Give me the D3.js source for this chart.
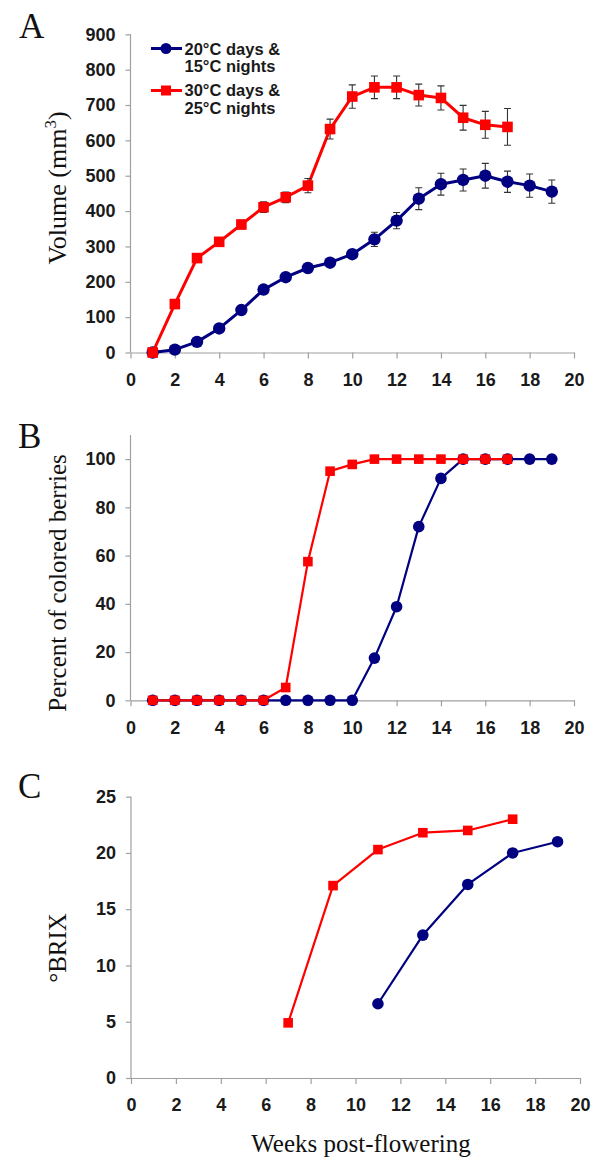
<!DOCTYPE html>
<html>
<head>
<meta charset="utf-8">
<script src="https://cdn.jsdelivr.net/npm/d3@7"></script>
<style>
  html, body { margin: 0; padding: 0; background: #fff; }
  svg { display: block; }
</style>
</head>
<body>
<script>
// ---------- data ----------
const weeksCoolA = [1,2,3,4,5,6,7,8,9,10,11,12,13,14,15,16,17,18,19];
const volumeCool = [0,8,30,68,120,178,213,239,254,278,320,373,435,476,488,500,483,472,455];
const volumeCoolErr = [4,5,6,8,8,9,9,9,10,12,20,23,31,31,31,35,30,33,33];
const weeksWarmA = [1,2,3,4,5,6,7,8,9,10,11,12,13,14,15,16,17];
const volumeWarm = [0,137,267,313,362,411,439,472,632,724,750,750,728,720,664,644,638];
const volumeWarmErr = [4,6,8,8,12,15,15,20,28,33,32,32,31,34,35,38,52];

const weeksB = [1,2,3,4,5,6,7,8,9,10,11,12,13,14,15,16,17,18,19];
const coloredCool = [0,0,0,0,0,0,0,0,0,0,17.5,38.8,72,92,100,100,100,100,100];
const weeksWarmB = [1,2,3,4,5,6,7,8,9,10,11,12,13,14,15,16,17];
const coloredWarm = [0,0,0,0,0,0,5.3,57.5,95,97.8,100,100,100,100,100,100,100];

const weeksCoolC = [11,13,15,17,19];
const brixCool = [6.6,12.7,17.2,20.0,21.0];
const weeksWarmC = [7,9,11,13,15,17];
const brixWarm = [4.9,17.1,20.3,21.8,22.0,23.0];

const xTicks = [0,2,4,6,8,10,12,14,16,18,20];
const yTicksA = [0,100,200,300,400,500,600,700,800,900];
const yTicksB = [0,20,40,60,80,100];
const yTicksC = [0,5,10,15,20,25];

const legendLabels = [["20\u00B0C days &","15\u00B0C nights"],["30\u00B0C days &","25\u00B0C nights"]];

// ---------- styles ----------
const BLUE = "#000080";
const RED = "#ff0000";
const AXIS = "#a0a0a0";
const TICKFONT = "'Liberation Sans', Arial, sans-serif";
const SERIF = "'Liberation Serif', 'Times New Roman', serif";

const svg = d3.select("body").append("svg")
  .attr("width", 600).attr("height", 1165);

function drawAxes(x, y, yTicks) {
  const gx = svg.append("g").attr("transform", `translate(0,${y(0)})`)
    .call(d3.axisBottom(x).tickValues(xTicks).tickSize(6).tickSizeOuter(0).tickPadding(14.5).tickFormat(d3.format("d")));
  const gy = svg.append("g").attr("transform", `translate(${x(0)},0)`)
    .call(d3.axisLeft(y).tickValues(yTicks).tickSize(5).tickSizeOuter(0).tickPadding(10).tickFormat(d3.format("d")));
  [gx, gy].forEach(g => {
    g.select(".domain").attr("stroke", AXIS).attr("stroke-width", 1.2);
    g.selectAll(".tick line").attr("stroke", AXIS).attr("stroke-width", 1.2);
    g.selectAll(".tick text").attr("fill", "#1a1a1a")
      .style("font-family", TICKFONT).style("font-weight", "bold").style("font-size", "18px");
  });
  gy.select(".domain").attr("d", `M0,${y.range()[0]}V${y.range()[1]}`);
}

function drawSeries(x, y, xs, ys, color, shape, opts) {
  const pts = xs.map((d, i) => [d, ys[i]]);
  const line = d3.line().x(d => x(d[0])).y(d => y(d[1]));
  svg.append("path").datum(pts).attr("d", line)
    .attr("fill", "none").attr("stroke", color).attr("stroke-width", opts.lw)
    .attr("stroke-linejoin", "round");
  if (opts.err) {
    const g = svg.append("g").attr("stroke", "#333").attr("stroke-width", 1.1).attr("fill", "none");
    pts.forEach((d, i) => {
      const e = opts.err[i];
      const cx = x(d[0]), y1 = y(d[1] - e), y2 = y(d[1] + e);
      g.append("path").attr("d", `M${cx},${y1}V${y2}M${cx-3.5},${y1}H${cx+3.5}M${cx-3.5},${y2}H${cx+3.5}`);
    });
  }
  const m = svg.append("g").attr("fill", color);
  if (shape === "circle") {
    m.selectAll("circle").data(pts).join("circle")
      .attr("cx", d => x(d[0])).attr("cy", d => y(d[1])).attr("r", opts.size);
  } else {
    m.selectAll("rect").data(pts).join("rect")
      .attr("x", d => x(d[0]) - opts.size).attr("y", d => y(d[1]) - opts.size)
      .attr("width", opts.size * 2).attr("height", opts.size * 2);
  }
}

function panelLetter(txt, px, py) {
  svg.append("text").attr("x", px).attr("y", py).text(txt)
    .style("font-family", SERIF).style("font-size", "35px").attr("fill", "#111");
}

function yTitle(cy) {
  return svg.append("text").attr("transform", `translate(66,${cy}) rotate(-90)`)
    .attr("text-anchor", "middle")
    .style("font-family", SERIF).style("font-size", "25px").attr("fill", "#111");
}

// ---------- Panel A ----------
const xA = d3.scaleLinear([0, 20], [130.5, 574]);
const yA = d3.scaleLinear([0, 900], [352.5, 34.3]);
drawAxes(xA, yA, yTicksA);
drawSeries(xA, yA, weeksCoolA, volumeCool, BLUE, "circle", {lw: 3, size: 6.2, err: volumeCoolErr});
drawSeries(xA, yA, weeksWarmA, volumeWarm, RED, "square", {lw: 3, size: 5.3, err: volumeWarmErr});
panelLetter("A", 19, 38);
const tA = yTitle(188).style("font-size", "26px");
tA.append("tspan").text("Volume (mm");
tA.append("tspan").text("3").attr("dy", -10).style("font-size", "17px");
tA.append("tspan").text(")").attr("dy", 10);

// legend
const legend = svg.append("g");
[[BLUE, "circle", 48.5, 54.5], [RED, "square", 90.5, 96]].forEach((l, i) => {
  legend.append("line").attr("x1", 151).attr("x2", 182).attr("y1", l[2]).attr("y2", l[2])
    .attr("stroke", l[0]).attr("stroke-width", 3);
  if (l[1] === "circle") legend.append("circle").attr("cx", 166).attr("cy", l[2]).attr("r", 5.5).attr("fill", l[0]);
  else legend.append("rect").attr("x", 161).attr("y", l[2] - 5).attr("width", 10).attr("height", 10).attr("fill", l[0]);
  legendLabels[i].forEach((s, j) => {
    legend.append("text").attr("x", 184.5).attr("y", l[3] + j * 17.5).text(s)
      .style("font-family", TICKFONT).style("font-weight", "bold").style("font-size", "16.5px").attr("fill", "#1a1a1a");
  });
});

// ---------- Panel B ----------
const xB = d3.scaleLinear([0, 20], [130.5, 574]);
const yB = d3.scaleLinear([0, 110], [700.3, 435]);
drawAxes(xB, yB, yTicksB);
drawSeries(xB, yB, weeksB, coloredCool, BLUE, "circle", {lw: 2.2, size: 5.8});
drawSeries(xB, yB, weeksWarmB, coloredWarm, RED, "square", {lw: 2.2, size: 4.8});
panelLetter("B", 18, 448);
yTitle(583).text("Percent of colored berries");

// ---------- Panel C ----------
const xC = d3.scaleLinear([0, 20], [131, 580]);
const yC = d3.scaleLinear([0, 25], [1078, 796.7]);
drawAxes(xC, yC, yTicksC);
drawSeries(xC, yC, weeksCoolC, brixCool, BLUE, "circle", {lw: 2.2, size: 5.8});
drawSeries(xC, yC, weeksWarmC, brixWarm, RED, "square", {lw: 2.2, size: 4.8});
panelLetter("C", 18, 798);
yTitle(948).text("\u00B0BRIX");

svg.append("text").attr("x", 361).attr("y", 1152).attr("text-anchor", "middle")
  .text("Weeks post-flowering")
  .style("font-family", SERIF).style("font-size", "25px").attr("fill", "#111");
</script>
</body>
</html>
